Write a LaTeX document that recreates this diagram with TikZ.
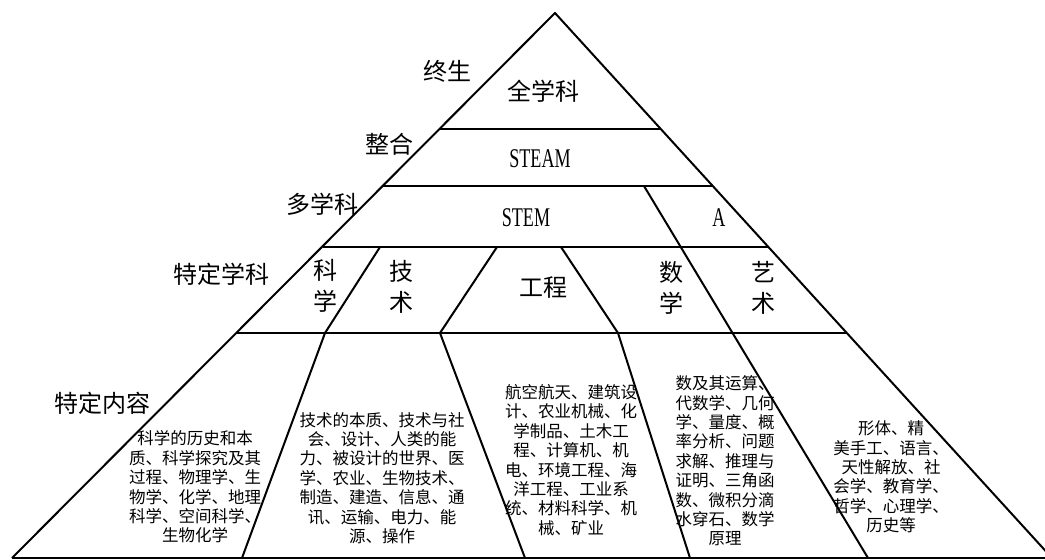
\documentclass[tikz,border=0pt]{standalone}
\usepackage{fontspec}
\newfontfamily\cjk{Noto Sans CJK SC}
\newfontfamily\latn[FakeStretch=0.67]{Liberation Serif}
\tikzset{
  edge/.style={line width=2pt, line join=round},
  big/.style={font=\cjk\fontsize{24}{31}\selectfont, inner sep=0pt, align=center},
  small/.style={font=\cjk\fontsize{16.5}{19.4}\selectfont, inner sep=0pt, align=center},
  latin/.style={font=\latn\fontsize{27}{27}\selectfont, inner sep=0pt}
}
\begin{document}
\begin{tikzpicture}[x=1pt,y=-1pt]
\useasboundingbox (0,0) rectangle (1045,560);
\fill[white] (0,0) rectangle (1045,560);
\clip (0,0) rectangle (1045,560);
% outline points
\coordinate (apex) at (555,13);
\coordinate (L1) at (440,129);
\coordinate (L2) at (383,186);
\coordinate (L3) at (323,247);
\coordinate (L4) at (236,333);
\coordinate (L5) at (12,558);
\coordinate (R1) at (661,129);
\coordinate (R2) at (713,186);
\coordinate (R3) at (768,247);
\coordinate (R4) at (847,333);
\coordinate (R5) at (1052,558);
% dividers
\coordinate (SAt) at (644,186);
\coordinate (SAb) at (868,558);
\coordinate (D1t) at (380,247);
\coordinate (D1m) at (325,333);
\coordinate (D1b) at (242,558);
\coordinate (D2t) at (497,247);
\coordinate (D2m) at (440,333);
\coordinate (D2b) at (525,558);
\coordinate (D3t) at (561,247);
\coordinate (D3m) at (618,333);
\coordinate (D3b) at (690,558);
% pyramid outline
\draw[edge] (L5) -- (apex) -- (R5);
\draw[edge] (L5) -- (R5);
\draw[edge] (L1) -- (R1);
\draw[edge] (L2) -- (R2);
\draw[edge] (L3) -- (R3);
\draw[edge] (L4) -- (R4);
% dividers
\draw[edge] (SAt) -- (SAb);
\draw[edge] (D1t) -- (D1m) -- (D1b);
\draw[edge] (D2t) -- (D2m) -- (D2b);
\draw[edge] (D3t) -- (D3m) -- (D3b);
% left labels
\node[big] (zs) at (447,71) {终生};
\node[big] (zh) at (389,144) {整合};
\node[big] (dxk) at (322,204) {多学科};
\node[big] (tdxk) at (221,274) {特定学科};
\node[big] (tdnr) at (102,403) {特定内容};
% inner labels
\node[big] (qxk) at (543,91) {全学科};
\node[latin] (steam) at (540,159) {STEAM};
\node[latin] (stem) at (526,218) {STEM};
\node[latin] (a) at (719,218) {A};
\node[big] (kx) at (325,286) {科\\学};
\node[big] (js) at (401,287) {技\\术};
\node[big] (gc) at (543,288) {工程};
\node[big] (sx) at (671,288) {数\\学};
\node[big] (ys) at (763,288) {艺\\术};
% content texts
\node[small] (t1) at (195,487) {科学的历史和本\\质、科学探究及其\\过程、物理学、生\\物学、化学、地理\\科学、空间科学、\\生物化学};
\node[small] (t2) at (382,478) {技术的本质、技术与社\\会、设计、人类的能\\力、被设计的世界、医\\学、农业、生物技术、\\制造、建造、信息、通\\讯、运输、电力、能\\源、操作};
\node[small] (t3) at (571,460) {航空航天、建筑设\\计、农业机械、化\\学制品、土木工\\程、计算机、机\\电、环境工程、海\\洋工程、工业系\\统、材料科学、机\\械、矿业};
\node[small] (t4) at (725,461) {数及其运算、\\代数学、几何\\学、量度、概\\率分析、问题\\求解、推理与\\证明、三角函\\数、微积分滴\\水穿石、数学\\原理};
\node[small] (t5) at (891,477) {形体、精\\美手工、语言、\\天性解放、社\\会学、教育学、\\哲学、心理学、\\历史等};
\end{tikzpicture}
\end{document}
